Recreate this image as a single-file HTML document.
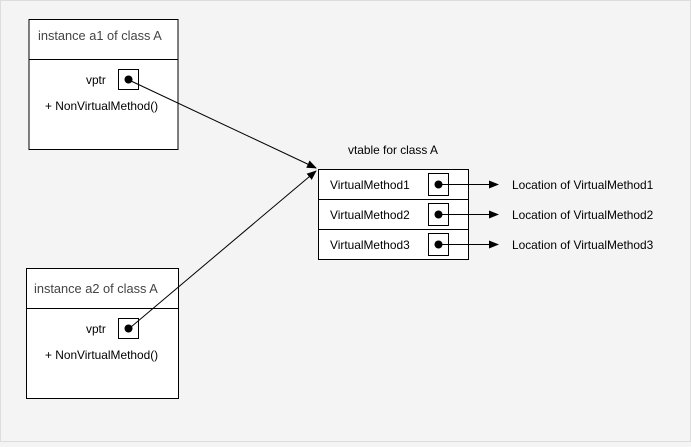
<!DOCTYPE html>
<html><head><style>body{margin:0;background:#f4f4f4}</style></head><body>
<svg width="691" height="442" xmlns="http://www.w3.org/2000/svg" font-family="Liberation Sans, sans-serif" font-size="11.9">
<rect x="0.5" y="0.5" width="690" height="441" fill="#f4f4f4" stroke="#ddd"/>
<defs><marker id="a" markerWidth="10" markerHeight="8" refX="9" refY="4" orient="auto" markerUnits="userSpaceOnUse"><path d="M0,0L10,4L0,8z" fill="#000"/></marker></defs>
<g fill="#fff" stroke="#000">
<rect x="29" y="19.5" width="149" height="130"/><line x1="29" y1="59.5" x2="178" y2="59.5"/>
<rect x="26.5" y="268.5" width="152" height="130"/><line x1="26.5" y1="308.5" x2="178.5" y2="308.5"/>
<rect x="118.5" y="69.5" width="20" height="20"/><rect x="118.5" y="318.5" width="20" height="20"/>
<rect x="318.5" y="169.5" width="150" height="90"/><line x1="318.5" y1="199.5" x2="468.5" y2="199.5"/><line x1="318.5" y1="229.5" x2="468.5" y2="229.5"/>
<rect x="428.5" y="173.5" width="20" height="22"/><rect x="428.5" y="203.5" width="20" height="22"/><rect x="428.5" y="233.5" width="20" height="22"/>
</g>
<g fill="#000"><circle cx="128.5" cy="79.5" r="4"/><circle cx="128.5" cy="328.5" r="4"/><circle cx="438.5" cy="184.5" r="4"/><circle cx="438.5" cy="214.5" r="4"/><circle cx="438.5" cy="244.5" r="4"/></g>
<g stroke="#000" marker-end="url(#a)"><line x1="131" y1="81" x2="316" y2="168"/><line x1="131" y1="327" x2="316" y2="171"/>
<line x1="438.5" y1="184.5" x2="498" y2="184.5"/><line x1="438.5" y1="214.5" x2="498" y2="214.5"/><line x1="438.5" y1="244.5" x2="498" y2="244.5"/></g>
<g fill="#000">
<text x="38" y="40" fill="#444" font-size="12.8">instance a1 of class A</text>
<text x="34" y="293" fill="#444" font-size="12.8">instance a2 of class A</text>
<text x="86" y="84">vptr</text><text x="86" y="333">vptr</text>
<text x="45" y="110">+ NonVirtualMethod()</text><text x="45" y="359">+ NonVirtualMethod()</text>
<text x="348" y="154">vtable for class A</text>
<text x="330" y="189">VirtualMethod1</text><text x="330" y="219">VirtualMethod2</text><text x="330" y="249">VirtualMethod3</text>
<text x="512" y="189">Location of VirtualMethod1</text><text x="512" y="219">Location of VirtualMethod2</text><text x="512" y="249">Location of VirtualMethod3</text>
</g></svg></body></html>
